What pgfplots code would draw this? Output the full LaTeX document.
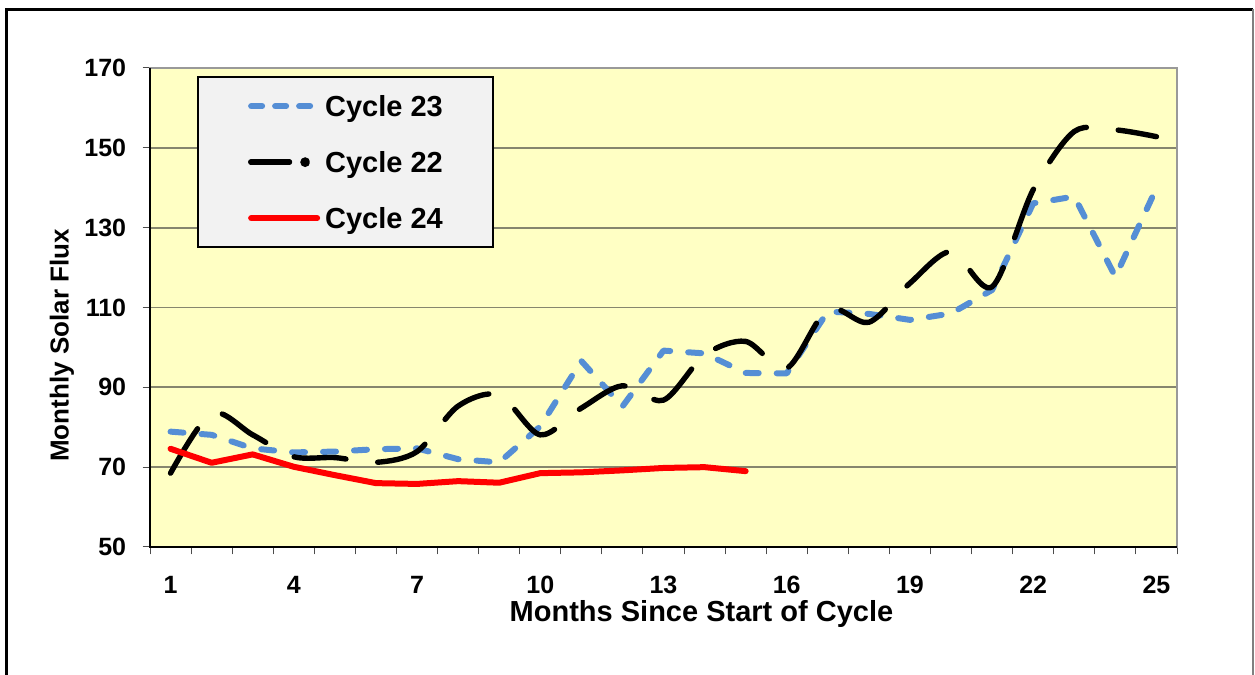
\documentclass[border=0pt]{standalone}
\usepackage{fontspec}
\setmainfont{Liberation Sans}
\usepackage{pgfplots}
\pgfplotsset{compat=1.18}
\definecolor{c23}{RGB}{85,142,213}
\definecolor{plotbg}{RGB}{255,255,196}
\definecolor{gridc}{RGB}{134,134,110}
\definecolor{legbg}{RGB}{242,242,242}
\begin{document}
\begin{tikzpicture}
\path[use as bounding box] (0,0) rectangle (627.5pt,337.5pt);
\begin{scope}
\clip (0,0) rectangle (627.5pt,337.5pt);
\draw[black, line width=1.5pt] (3.25pt,-5pt) -- (3.25pt,332.75pt) -- (626.5pt,332.75pt);
\draw[gray, line width=0.8pt] (626.5pt,332.75pt) -- (626.5pt,-5pt);
\end{scope}
\begin{axis}[
  scale only axis, width=513.5pt, height=239.5pt,
  at={(75pt,64pt)}, anchor=south west,
  xmin=0.5, xmax=25.5, ymin=50, ymax=170,
  clip=false,
  axis background/.style={fill=plotbg},
  xtick={0.5,1.5,...,25.5},
  xticklabels={1,,,4,,,7,,,10,,,13,,,16,,,19,,,22,,,25,},
  ytick={50,70,...,170},
  xtick pos=bottom, ytick pos=left, tick align=outside,
  major tick length=3.75pt,
  tick style={gray!60!black, line width=0.5pt},
  ymajorgrids, grid style={gridc, line width=0.9pt},
  axis line style={gray!80, line width=1pt},
  /pgf/number format/assume math mode=true,
  xticklabel style={font=\bfseries\fontsize{12.5}{15}\selectfont, anchor=center, xshift=10.27pt, yshift=-15pt},
  yticklabel style={font=\bfseries\fontsize{12.5}{15}\selectfont, anchor=east, inner sep=0pt, xshift=-8pt},
  xlabel={Months Since Start of Cycle},
  xlabel style={at={(axis description cs:0.537,-0.140)}, anchor=center, font=\bfseries\fontsize{14.5}{17}\selectfont},
  ylabel={Monthly Solar Flux},
  ylabel style={at={(axis description cs:-0.0857,0.4207)}, anchor=center, font=\bfseries\fontsize{13}{15}\selectfont},
  legend style={at={(axis description cs:0.0458,0.983)}, anchor=north west, fill=legbg, draw=black, line width=1pt,
    font=\bfseries\fontsize{14.5}{17}\selectfont, inner xsep=25pt, inner ysep=9.3pt, row sep=17.6pt, column sep=1pt,
    nodes={inner sep=0pt, text height=10.4pt, text depth=0pt}},
  legend cell align=left,
]
\addplot[c23, line width=3pt, dash pattern=on 6.5pt off 9pt, line cap=round, line join=round,
  legend image code/.code={\draw[c23, line width=3pt, line cap=round, dash pattern=on 5.5pt off 6.5pt] (1.5pt,0pt) -- (31pt,0pt); \path (36pt,0pt);}]
  coordinates {(1,78.9) (2,78.1) (3,74.7) (4,73.7) (5,73.9) (6,74.5) (7,74.7) (8,72.0) (9,71.2) (10,80.2)
  (11,96.6) (12,85.2) (13,99.2) (14,98.5) (15,93.6) (16,93.5) (17,109.0) (18,108.4) (19,106.9) (20,108.5)
  (21,114.4) (22,136.1) (23,137.8) (24,117.7) (25,139.9)};
\addlegendentry{Cycle 23}
\addplot[black, line width=2.7pt, dash pattern=on 26pt off 16pt, line cap=round, smooth, tension=0.5,
  legend image code/.code={\draw[black, line width=2.7pt, line cap=round] (1.3pt,0pt) -- (20.7pt,0pt); \fill[black] (28.5pt,0pt) circle (1pt); \path (36pt,0pt);}]
  coordinates {(1,68.5) (2,83.5) (3,78.1) (4,72.6) (5,72.4) (6,71.2) (7,73.9) (8,85.3) (9,88.1) (10,78.1)
  (11,84.8) (12,90.4) (13,86.8) (14,98.1) (15,101.5) (16,94.8) (17,109.6) (18,106.3) (19,116.1) (20,124.0)
  (21,115.2) (22,139.5) (23,154.1) (24,154.5) (25,152.8)};
\addlegendentry{Cycle 22}
\addplot[red, line width=3pt, line cap=round, line join=round,
  legend image code/.code={\draw[red, line width=3pt, line cap=round] (1.5pt,0pt) -- (34.5pt,0pt); \path (36pt,0pt);}]
  coordinates {(1,74.6) (2,71.1) (3,73.2) (4,70.1) (5,68.0) (6,66.0) (7,65.8) (8,66.5) (9,66.1) (10,68.5)
  (11,68.7) (12,69.2) (13,69.8) (14,70.0) (15,69.0)};
\addlegendentry{Cycle 24}
\draw[black, line width=1.1pt] (rel axis cs:0,1) -- (rel axis cs:0,0) -- (rel axis cs:1,0);
\end{axis}
\end{tikzpicture}
\end{document}
